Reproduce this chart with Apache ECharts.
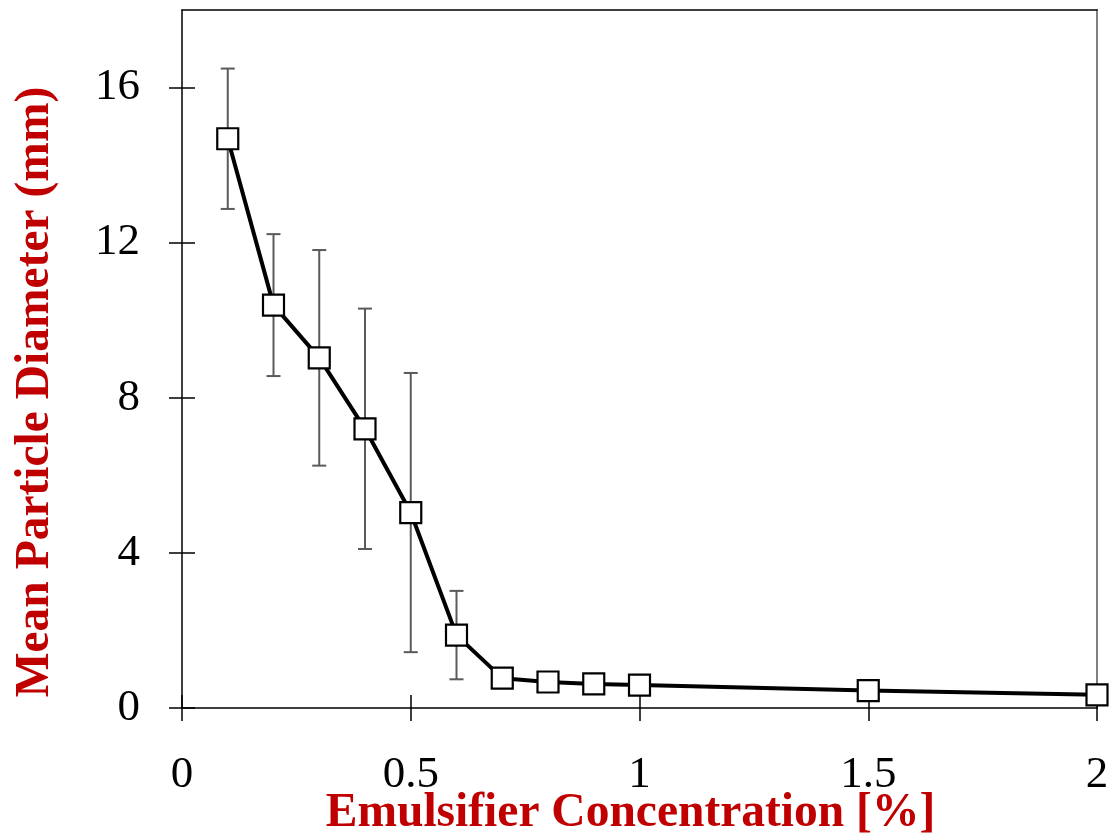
<!DOCTYPE html>
<html>
<head>
<meta charset="utf-8">
<script src="https://cdn.jsdelivr.net/npm/echarts@6/dist/echarts.min.js"></script>
<style>
html,body{margin:0;padding:0;background:#fff;}
#chart{width:1115px;height:839px;}
</style>
</head>
<body>
<div id="chart"></div>
<script>
var concentrations = [0.1, 0.2, 0.3, 0.4, 0.5, 0.6, 0.7, 0.8, 0.9, 1.0, 1.5, 2.0];
var diameters = [14.68, 10.39, 9.03, 7.2, 5.04, 1.88, 0.77, 0.67, 0.62, 0.59, 0.45, 0.34];
var errors = [1.81, 1.83, 2.78, 3.1, 3.6, 1.14, 0, 0, 0, 0, 0, 0];
var xTicks = [0, 0.5, 1, 1.5, 2];
var yTicks = [0, 4, 8, 12, 16];

var font = "'Liberation Serif', 'Times New Roman', serif";
var chart = echarts.init(document.getElementById('chart'), null, {renderer: 'canvas'});

var lineData = concentrations.map(function (x, i) { return [x, diameters[i]]; });
var errData = concentrations.map(function (x, i) { return [x, diameters[i] - errors[i], diameters[i] + errors[i]]; });

var grid = {left: 182, right: 18, top: 10, bottom: 131, containLabel: false, outerBoundsMode: 'none'};

function xAx(opts) {
  return Object.assign({
    type: 'value', min: 0, max: 2, interval: 0.5,
    splitLine: {show: false}
  }, opts);
}
function yAx(opts) {
  return Object.assign({
    type: 'value', min: 0, max: 18, interval: 4,
    splitLine: {show: false}
  }, opts);
}

chart.setOption({
  backgroundColor: '#fff',
  animation: false,
  grid: [grid],
  xAxis: [
    xAx({
      position: 'bottom',
      name: 'Emulsifier Concentration [%]',
      nameLocation: 'middle',
      nameGap: 82,
      nameMoveOverlap: false,
      nameTextStyle: {fontFamily: font, fontWeight: 'bold', fontSize: 47.5, color: '#C00000', padding: [0, 18, 0, 0]},
      axisLine: {show: true, onZero: false, lineStyle: {color: '#000', width: 1.5}},
      axisTick: {show: true, inside: false, length: 13, customValues: xTicks, lineStyle: {color: '#000', width: 1.5}},
      axisLabel: {show: true, customValues: xTicks, margin: 45, fontFamily: font, fontSize: 45, color: '#000',
        formatter: function (v) { return String(v); }}
    }),
    xAx({
      position: 'bottom',
      axisLine: {show: false},
      axisTick: {show: true, inside: true, length: 13, customValues: xTicks, lineStyle: {color: '#000', width: 1.5}},
      axisLabel: {show: false}
    }),
    xAx({
      position: 'top',
      axisLine: {show: true, onZero: false, lineStyle: {color: '#000', width: 1.5}},
      axisTick: {show: false},
      axisLabel: {show: false}
    })
  ],
  yAxis: [
    yAx({
      position: 'left',
      name: 'Mean Particle Diameter (mm)',
      nameLocation: 'middle',
      nameGap: 122,
      nameRotate: 90,
      nameTextStyle: {fontFamily: font, fontWeight: 'bold', fontSize: 47.5, color: '#C00000', padding: [0, 66, 0, 0]},
      axisLine: {show: true, onZero: false, lineStyle: {color: '#000', width: 1.5}},
      axisTick: {show: true, inside: false, length: 13, customValues: yTicks, lineStyle: {color: '#000', width: 1.5}},
      axisLabel: {show: true, customValues: yTicks, margin: 42, fontFamily: font, fontSize: 45, color: '#000'}
    }),
    yAx({
      position: 'left',
      axisLine: {show: false},
      axisTick: {show: true, inside: true, length: 13, customValues: yTicks, lineStyle: {color: '#000', width: 1.5}},
      axisLabel: {show: false}
    }),
    yAx({
      position: 'right',
      axisLine: {show: true, onZero: false, lineStyle: {color: '#808080', width: 2}},
      axisTick: {show: false},
      axisLabel: {show: false}
    })
  ],
  series: [
    {
      type: 'custom',
      xAxisIndex: 0,
      yAxisIndex: 0,
      z: 1,
      data: errData,
      renderItem: function (params, api) {
        var lo = api.coord([api.value(0), api.value(1)]);
        var hi = api.coord([api.value(0), api.value(2)]);
        var half = 7;
        var style = {stroke: '#5a5a5a', lineWidth: 2};
        return {
          type: 'group',
          children: [
            {type: 'line', shape: {x1: lo[0], y1: lo[1], x2: hi[0], y2: hi[1]}, style: style},
            {type: 'line', shape: {x1: lo[0] - half, y1: lo[1], x2: lo[0] + half, y2: lo[1]}, style: style},
            {type: 'line', shape: {x1: hi[0] - half, y1: hi[1], x2: hi[0] + half, y2: hi[1]}, style: style}
          ]
        };
      }
    },
    {
      type: 'line',
      xAxisIndex: 0,
      yAxisIndex: 0,
      z: 3,
      data: lineData,
      symbol: 'rect',
      symbolSize: 21,
      showAllSymbol: true,
      clip: false,
      lineStyle: {color: '#000', width: 4},
      itemStyle: {color: '#fff', borderColor: '#000', borderWidth: 2.2},
      emphasis: {disabled: true}
    }
  ]
});
</script>
</body>
</html>
